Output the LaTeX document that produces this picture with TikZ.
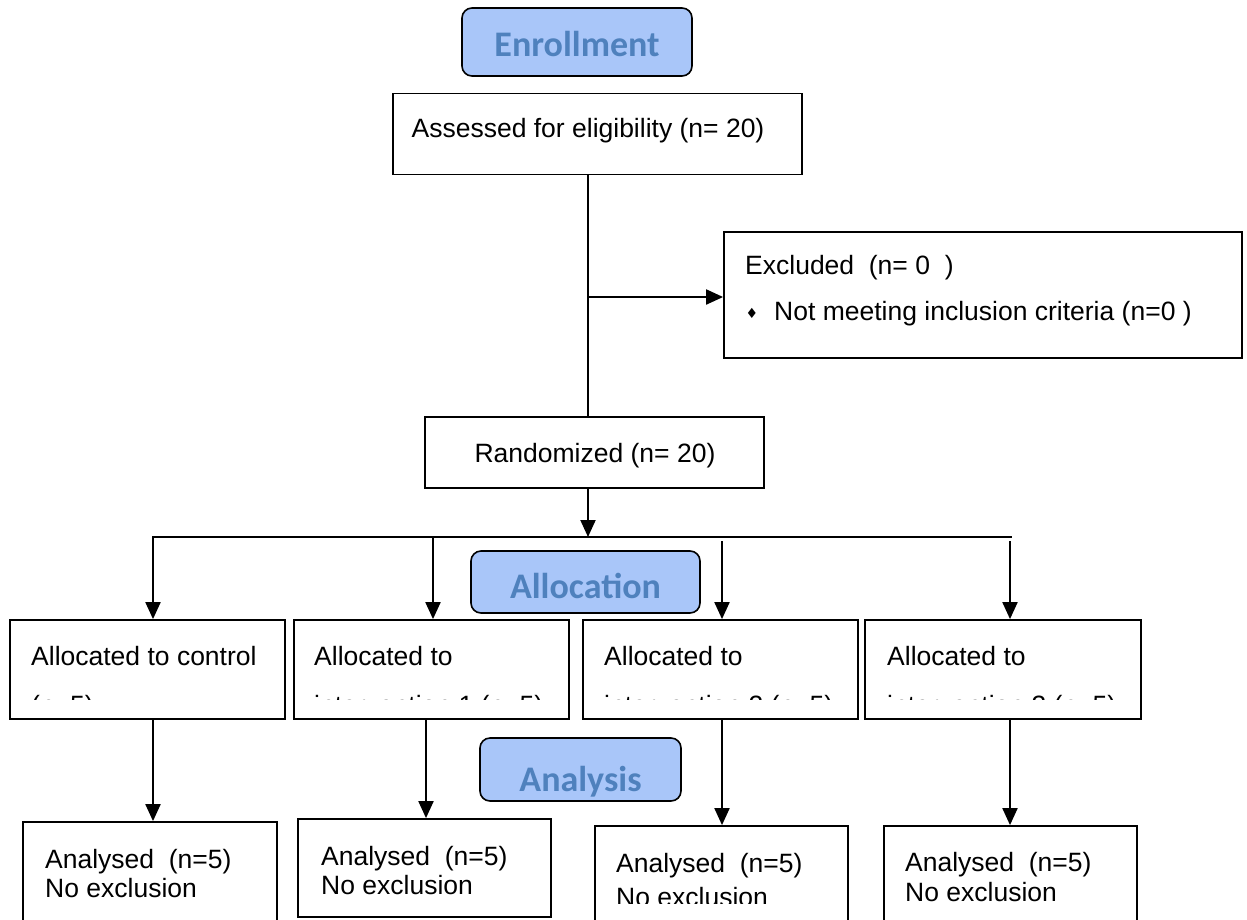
\documentclass[tikz,border=0pt]{standalone}
\usepackage{fontspec}
\setmainfont{Liberation Sans}
\newfontfamily\headfont{Carlito}
\newfontfamily\symfont{DejaVu Sans}
\usetikzlibrary{arrows.meta}

\definecolor{headfill}{RGB}{169,198,249}
\definecolor{headtext}{RGB}{79,129,189}

\begin{document}
\begin{tikzpicture}[x=1pt,y=-1pt,
  box/.style={draw, line width=1.8pt, inner sep=0pt, fill=white},
  head/.style={draw, line width=1.6pt, rounded corners=10pt, fill=headfill, inner sep=0pt},
  headlabel/.style={text=headtext, font=\headfont\bfseries\fontsize{36}{40}\selectfont, inner sep=0pt, anchor=base},
  txt/.style={font=\fontsize{26.5}{30}\selectfont, inner sep=0pt, anchor=base west},
  ctxt/.style={txt, anchor=base},
  link/.style={line width=2pt},
  arr/.style={link, -{Triangle[width=15pt,length=17pt]}}
]
\useasboundingbox (0,0) rectangle (1247,919);
\clip (0,0) rectangle (1247,919);
\fill[white] (0,0) rectangle (1247,919);

% ---- stage headers
\node[head, minimum width=230, minimum height=68] (enrol) at (577,42) {};
\node[headlabel] (enrol-t) at (577,56) {Enrollment};
\node[head, minimum width=229, minimum height=62] (alloc) at (585.5,582) {};
\node[headlabel] (alloc-t) at (585.5,598) {Allocation};
\node[head, minimum width=201, minimum height=63] (anal) at (580.5,769.5) {};
\node[headlabel] (anal-t) at (580.5,791) {Analysis};

% ---- enrolment boxes
\node[box, minimum width=409, minimum height=81] (assess) at (597.5,134) {};
\node[ctxt] (assess-t) at (588,137) {Assessed for eligibility (n= 20)};

\node[box, minimum width=518, minimum height=126] (excl) at (983,295) {};
\node[txt] (excl-t1) at (745,274) {Excluded\ \ (n= 0\ \ )};
\node[inner sep=0pt, anchor=base, font=\symfont\fontsize{14}{14}\selectfont] (excl-b) at (752,318) {♦};
\node[txt] (excl-t2) at (774,320) {Not meeting inclusion criteria (n=0 )};

\node[box, minimum width=339, minimum height=71] (rand) at (594.5,452.5) {};
\node[ctxt] (rand-t) at (595,462) {Randomized (n= 20)};

% ---- trunk and exclusion branch
\coordinate (t1) at (588,297);
\coordinate (split) at (588,537);
\draw[link] (assess.south -| t1) -- (rand.north -| t1);
\draw[arr] (t1) -- (t1 -| excl.west);
\draw[arr] (rand.south -| split) -- (split);

% ---- allocation boxes
\node[box, minimum width=275, minimum height=99] (a1) at (147.5,669.5) {};
\node[box, minimum width=275, minimum height=99] (a2) at (431.5,669.5) {};
\node[box, minimum width=275, minimum height=99] (a3) at (720.5,669.5) {};
\node[box, minimum width=276, minimum height=99] (a4) at (1003,669.5) {};

\coordinate (aclip) at (0,699);
\begin{scope}
  \clip (a1.north west) rectangle (a4.east |- aclip);
  \node[txt] (a1-t1) at (31,665) {Allocated to control};
  \node[txt] (a1-t2) at (31,714) {(n=5)};
  \node[txt] (a2-t1) at (314,665) {Allocated to};
  \node[txt] (a2-t2) at (314,714) {intervention 1 (n=5)};
  \node[txt] (a3-t1) at (604,665) {Allocated to};
  \node[txt] (a3-t2) at (604,714) {intervention 2 (n=5)};
  \node[txt] (a4-t1) at (887,665) {Allocated to};
  \node[txt] (a4-t2) at (887,714) {intervention 3 (n=5)};
\end{scope}

% ---- distribution bar and allocation arrows
\coordinate (bl) at (152,537);
\coordinate (br) at (1012,537);
\draw[link] (bl) -- (br);
\coordinate (b1) at (153,537);
\coordinate (b2) at (433,537);
\coordinate (b3) at (722,541);
\coordinate (b4) at (1010,541);
\draw[arr] (b1) -- (b1 |- a1.north);
\draw[arr] (b2) -- (b2 |- a2.north);
\draw[arr] (b3) -- (b3 |- a3.north);
\draw[arr] (b4) -- (b4 |- a4.north);

% ---- analysis boxes
\node[box, minimum width=254, minimum height=120] (r1) at (150,882) {};
\node[box, minimum width=253, minimum height=98] (r2) at (424.5,868) {};
\node[box, minimum width=253, minimum height=120] (r3) at (721.5,886) {};
\node[box, minimum width=253, minimum height=120] (r4) at (1010.5,886) {};

\node[txt] (r1-t1) at (45,868) {Analysed\ \ (n=5)};
\node[txt] (r1-t2) at (45,897) {No exclusion};
\node[txt] (r2-t1) at (321,865) {Analysed\ \ (n=5)};
\node[txt] (r2-t2) at (321,894) {No exclusion};
\node[txt] (r3-t1) at (616,872) {Analysed\ \ (n=5)};
\coordinate (rclip) at (0,903);
\begin{scope}
  \clip (r3.north west) rectangle (r3.east |- rclip);
  \node[txt] (r3-t2) at (616,906) {No exclusion};
\end{scope}
\node[txt] (r4-t1) at (905,871) {Analysed\ \ (n=5)};
\node[txt] (r4-t2) at (905,901) {No exclusion};

% ---- arrows into analysis
\coordinate (c1) at (153,0);
\coordinate (c2) at (426,0);
\coordinate (c3) at (722,0);
\coordinate (c4) at (1010,0);
\draw[arr] (a1.south -| c1) -- (c1 |- r1.north);
\draw[arr] (a2.south -| c2) -- (c2 |- r2.north);
\draw[arr] (a3.south -| c3) -- (c3 |- r3.north);
\draw[arr] (a4.south -| c4) -- (c4 |- r4.north);
\end{tikzpicture}
\end{document}
